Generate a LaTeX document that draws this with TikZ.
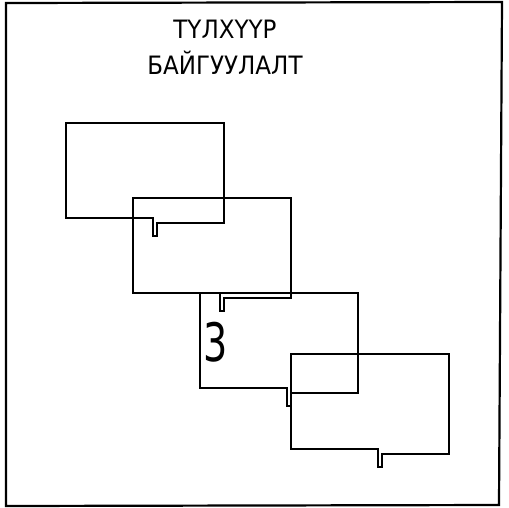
\documentclass[tikz,border=0pt]{standalone}
\usepackage{fontspec}
\setmainfont{DejaVu Sans}
\newfontfamily\labelfont{DejaVu Sans}
\tikzset{
  boxline/.style={draw=black, line width=2pt, line join=miter},
  frameline/.style={draw=black, line width=2.2pt},
  titletext/.style={font=\labelfont\fontsize{23}{27}\selectfont, inner sep=0pt, anchor=base},
  numtext/.style={font=\labelfont\fontsize{53}{60}\selectfont, inner sep=0pt},
  keybox/.pic={
    \draw[boxline] (0,0) -- (158,0) -- (158,100) -- (91,100) -- (91,113)
      -- (87,113) -- (87,95) -- (0,95) -- cycle;
  }
}
\begin{document}
\begin{tikzpicture}[x=1pt,y=-1pt]
\useasboundingbox (0,0) rectangle (509,507);
\draw[frameline] (6,3) -- (502,2) -- (499,505) -- (6,506) -- cycle;
\node[titletext] (t1) at (225,38) {\scalebox{1}[1.1]{ТҮЛХҮҮР}};
\node[titletext] (t2) at (225,74) {\scalebox{1}[1.1]{БАЙГУУЛАЛТ}};
\pic at (66,123) {keybox};
\pic at (133,198) {keybox};
\pic at (200,293) {keybox};
\pic at (291,354) {keybox};
\node[numtext] (n3) at (216,342) {\scalebox{0.72}[1]{3}};
\end{tikzpicture}
\end{document}
